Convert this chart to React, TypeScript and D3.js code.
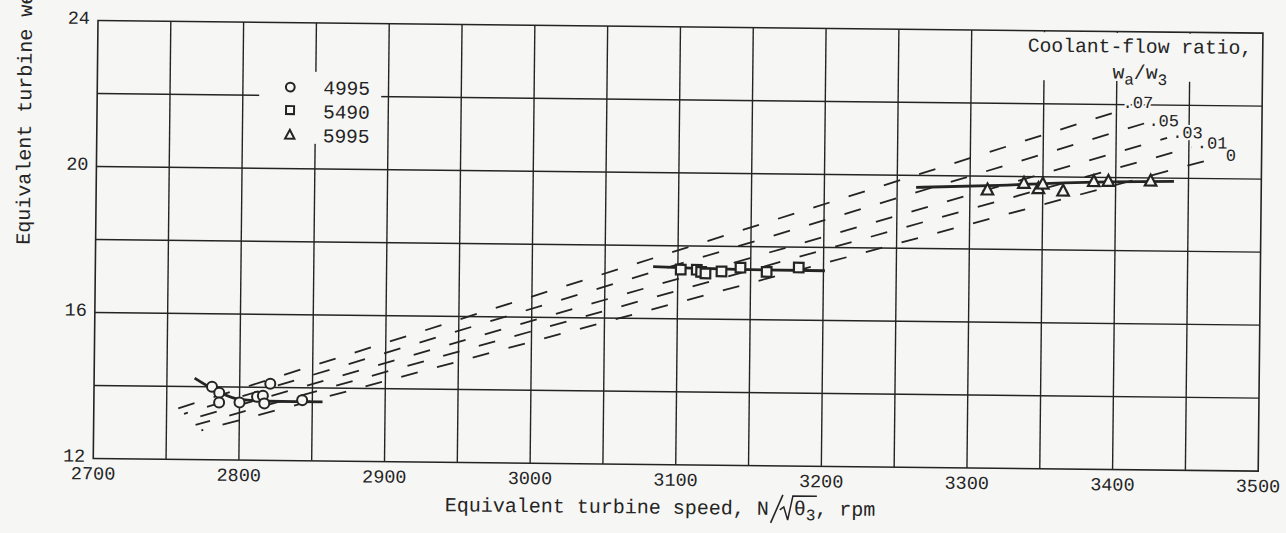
import * as d3 from "d3";

// corrected speed, rpm / weight flow for each altitude series
const seriesNames = ["4995", "5490", "5995"];

const speed4995 = [2781, 2786, 2786, 2800, 2812, 2816, 2817, 2821, 2843];
const flow4995 = [14.0, 13.84, 13.57, 13.58, 13.74, 13.77, 13.56, 14.1, 13.66];
const speed5490 = [3102, 3113, 3116, 3119, 3130, 3143, 3161, 3183];
const flow5490 = [17.35, 17.35, 17.29, 17.25, 17.31, 17.42, 17.31, 17.44];
const speed5995 = [3312, 3337, 3347, 3350, 3364, 3385, 3395, 3424];
const flow5995 = [19.62, 19.81, 19.67, 19.8, 19.61, 19.88, 19.89, 19.91];

// faired curves through each group
const fit4995Speed = [2769, 2785, 2800, 2820, 2857];
const fit4995Flow = [14.23, 13.87, 13.66, 13.62, 13.62];
const fit5490Speed = [3083, 3140, 3201];
const fit5490Flow = [17.42, 17.37, 17.36];
const fit5995Speed = [3263, 3320, 3365, 3440];
const fit5995Flow = [19.67, 19.75, 19.84, 19.91];

// coolant-flow ratio lines
const coolantRatio = [".07", ".05", ".03", ".01", "0"];
const coolantStartSpeed = [2758, 2762, 2766, 2770, 2774];
const coolantStartFlow = [13.4, 13.25, 13.1, 12.95, 12.8];
const coolantEndSpeed = [3400, 3420, 3435, 3452, 3472];
const coolantEndFlow = [21.8, 21.5, 21.1, 20.85, 20.6];

const xTicks = [2700, 2800, 2900, 3000, 3100, 3200, 3300, 3400, 3500];
const xGrid = [2750, 2800, 2850, 2900, 2950, 3000, 3050, 3100, 3150, 3200, 3250, 3300, 3350, 3400, 3450];
const yTicks = [12, 16, 20, 24];
const yGrid = [14, 16, 18, 20, 22];

const WIDTH = 1286;
const HEIGHT = 533;
const PLOT_W = 1165;
const PLOT_H = 438;
const BG = "#f6f6f4";
const INK = "#242424";
const FONT = "'Liberation Mono', 'DejaVu Sans Mono', monospace";
// label offsets (px) from the end of each coolant line
const LABEL_DX = [6, 3, 5, 5, 5];
const LABEL_DY = [-4, 3, 0, 1, 4];

type Pt = { x: number; y: number };

function zipPts(xs: number[], ys: number[]): Pt[] {
  return xs.map((x, i) => ({ x, y: ys[i] }));
}

export default function App() {
  const x = d3.scaleLinear().domain([2700, 3500]).range([0, PLOT_W]);
  const y = d3.scaleLinear().domain([12, 24]).range([PLOT_H, 0]);
  const line = d3
    .line<Pt>()
    .x((d) => x(d.x))
    .y((d) => y(d.y))
    .curve(d3.curveMonotoneX);

  const fits = [
    zipPts(fit4995Speed, fit4995Flow),
    zipPts(fit5490Speed, fit5490Flow),
    zipPts(fit5995Speed, fit5995Flow),
  ];

  const tri = (cx: number, cy: number, s: number) =>
    `M${cx},${cy - s * 0.62} L${cx + s * 0.55},${cy + s * 0.42} L${cx - s * 0.55},${cy + s * 0.42} Z`;

  const baseX = 352;
  const baseY = PLOT_H + 49;
  const nEnd = baseX + 27 * 12;

  return (
    <svg
      width={WIDTH}
      height={HEIGHT}
      style={{ position: "absolute", left: 0, top: 0, background: BG }}
      fontFamily={FONT}
    >
      <rect x={0} y={0} width={WIDTH} height={HEIGHT} fill={BG} />
      <g transform="translate(98 20.5) rotate(0.62)">
        {/* grid */}
        {xGrid.map((v) => (
          <line key={`gx${v}`} x1={x(v)} x2={x(v)} y1={0} y2={PLOT_H} stroke={INK} strokeWidth={1.4} />
        ))}
        {yGrid.map((v) => (
          <line key={`gy${v}`} x1={0} x2={PLOT_W} y1={y(v)} y2={y(v)} stroke={INK} strokeWidth={1.4} />
        ))}
        <rect x={0} y={0} width={PLOT_W} height={PLOT_H} fill="none" stroke={INK} strokeWidth={1.6} />

        {/* blank areas behind legend and coolant title */}
        <rect x={162} y={49} width={122} height={72} fill={BG} />
        <rect x={925} y={1.5} width={235} height={48} fill={BG} />

        {/* coolant-flow ratio lines */}
        {coolantRatio.map((r, i) => (
          <line
            key={`c${r}`}
            x1={x(coolantStartSpeed[i])}
            y1={y(coolantStartFlow[i])}
            x2={x(coolantEndSpeed[i])}
            y2={y(coolantEndFlow[i])}
            stroke={INK}
            strokeWidth={1.8}
            strokeDasharray="17 20"
            strokeDashoffset={i * 13}
          />
        ))}
        {coolantRatio.map((r, i) => (
          <text
            key={`cl${r}`}
            x={x(coolantEndSpeed[i]) + LABEL_DX[i]}
            y={y(coolantEndFlow[i]) + LABEL_DY[i]}
            fontSize={17}
            fill={INK}
            stroke={BG}
            strokeWidth={4}
            paintOrder="stroke"
          >
            {r}
          </text>
        ))}

        {/* faired curves */}
        {fits.map((pts, i) => (
          <path key={`f${i}`} d={line(pts) ?? undefined} fill="none" stroke={INK} strokeWidth={2.8} />
        ))}

        {/* data points */}
        {speed4995.map((s, i) => (
          <circle key={`a${i}`} cx={x(s)} cy={y(flow4995[i])} r={5} fill={BG} stroke={INK} strokeWidth={2} />
        ))}
        {speed5490.map((s, i) => (
          <rect
            key={`b${i}`}
            x={x(s) - 4.8}
            y={y(flow5490[i]) - 4.8}
            width={9.6}
            height={9.6}
            fill={BG}
            stroke={INK}
            strokeWidth={2.2}
          />
        ))}
        {speed5995.map((s, i) => (
          <path key={`t${i}`} d={tri(x(s), y(flow5995[i]), 10.5)} fill={BG} stroke={INK} strokeWidth={2.2} />
        ))}

        {/* legend */}
        <circle cx={193} cy={64.5} r={4.4} fill={BG} stroke={INK} strokeWidth={2} />
        <rect x={189} y={83.5} width={8} height={8} fill={BG} stroke={INK} strokeWidth={2} />
        <path d={tri(193, 112.5, 8.5)} fill={BG} stroke={INK} strokeWidth={2} />
        {seriesNames.map((n, i) => (
          <text key={n} x={226} y={64.5 + i * 24} dy="0.35em" fontSize={19.5} fill={INK}>
            {n}
          </text>
        ))}

        {/* coolant title */}
        <text x={930} y={21} fontSize={19.7} fill={INK}>
          Coolant-flow ratio,
        </text>
        <text x={1015} y={47} fontSize={19.7} fill={INK}>
          w
          <tspan dy={6} fontSize={16}>
            a
          </tspan>
          <tspan dy={-6}>/w</tspan>
          <tspan dy={6} fontSize={16}>
            3
          </tspan>
        </text>

        {/* tick labels */}
        {yTicks.map((v) => (
          <text key={`yt${v}`} x={-8} y={y(v) - 3} dy="0.35em" textAnchor="end" fontSize={18.5} fill={INK}>
            {v}
          </text>
        ))}
        {xTicks.map((v) => (
          <text key={`xt${v}`} x={x(v)} y={PLOT_H + 21} textAnchor="middle" fontSize={18.5} fill={INK}>
            {v}
          </text>
        ))}

        {/* axis titles */}
        <text x={baseX} y={baseY} fontSize={20} fill={INK}>
          Equivalent turbine speed, N
        </text>
        <path
          d={`M${nEnd + 2},${baseY + 8} L${nEnd + 14},${baseY - 20}`}
          stroke={INK}
          strokeWidth={1.6}
          fill="none"
        />
        <path
          d={`M${nEnd + 11},${baseY - 5} L${nEnd + 15},${baseY - 8} L${nEnd + 19},${baseY + 5} L${nEnd + 24},${baseY - 19} L${nEnd + 48},${baseY - 19}`}
          stroke={INK}
          strokeWidth={1.5}
          fill="none"
        />
        <text x={nEnd + 25} y={baseY} fontSize={20} fill={INK}>
          θ
          <tspan dy={5} fontSize={16}>
            3
          </tspan>
          <tspan dy={-5}>, rpm</tspan>
        </text>
        <text x={-66} y={225} transform="rotate(-90 -66 225)" fontSize={20} fill={INK}>
          Equivalent turbine weight flow
        </text>
      </g>
    </svg>
  );
}
